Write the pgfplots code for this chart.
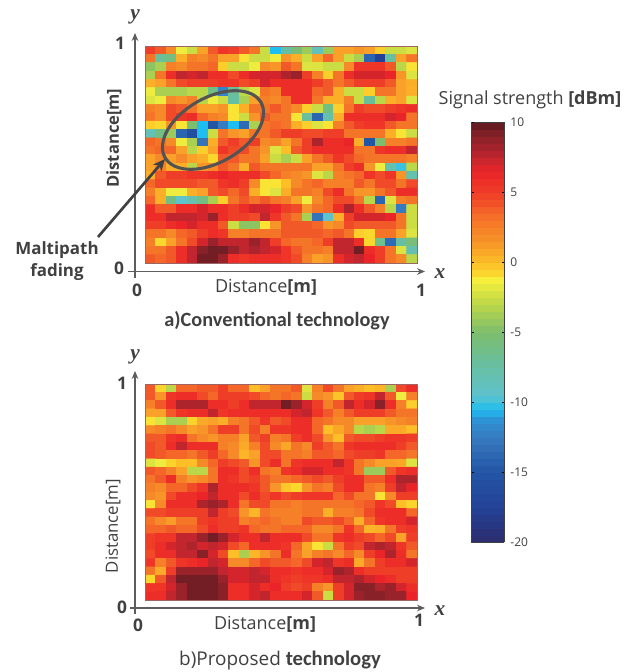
\documentclass[border=0pt]{standalone}
\usepackage{fontspec}
\usepackage{pgfplots}
\usepackage{pgfplotstable}
\pgfplotsset{compat=1.18}
\usetikzlibrary{arrows.meta}
\setmainfont{Open Sans}
\newfontfamily\calfont{Carlito}
\newfontfamily\serfont{Liberation Serif}
\definecolor{ink}{RGB}{64,64,64}
\pgfplotstableread[row sep=crcr]{
z\\
5\\4\\2\\-1.5\\-2.5\\1\\4\\5.5\\5\\4\\3\\-2.5\\-10.5\\-7.5\\-5.5\\-4\\-8.5\\-4\\1\\1\\1.5\\1\\-0.5\\-2.5\\-2.5\\-2\\
3\\-7\\-6\\0.5\\2.5\\2\\3\\1\\1\\-1\\-2.5\\-2.5\\-1.5\\1.5\\0.5\\-2.5\\1\\3.5\\1\\-2.5\\-3.5\\-14\\-17.5\\-7.5\\1\\3\\
-4.5\\-3.5\\2.5\\2\\3\\3\\3.5\\-0.5\\-2.5\\-2.5\\-1.5\\2\\1.5\\4\\3\\-2\\-2\\-2.5\\-2.5\\2\\5.5\\5.5\\5.5\\4\\-3\\-1\\
-3.5\\3\\6\\7.5\\7\\7.5\\6\\6\\4.5\\6\\7\\7\\7\\8\\8.5\\5\\2.5\\-0.5\\3\\6\\7\\7\\7\\6.5\\1.5\\-2\\
0.5\\1\\3\\4.5\\5\\5\\5\\5.5\\5.5\\4.5\\5\\7\\6\\6\\6\\6\\5\\4\\3\\4\\5\\5\\5\\4\\1\\0.5\\
-1.5\\-3.5\\-3.5\\-3.5\\-3\\-3\\-6\\-12\\-7\\-3\\-2\\3\\2.5\\6\\6\\6\\3.5\\4\\0.5\\-2.5\\-2.5\\-0.5\\3\\3\\1\\0.5\\
-2\\-1.5\\2\\1.5\\2.5\\-3\\-1.5\\-2.5\\-7.5\\-3.5\\1\\2.5\\2\\3\\6\\6\\3\\0.5\\0.5\\2.5\\-2.5\\-7\\-3\\0.5\\1\\-2\\
2.5\\2\\4.5\\4\\3\\1\\1\\1.5\\-1\\0.5\\3\\3\\4\\3\\2\\-0.5\\-2.5\\-6\\-0.5\\3\\5\\4.5\\4.5\\5\\5.5\\6\\
3\\2\\4.5\\5.5\\6\\3.5\\2.5\\2\\-1\\-2.5\\1.5\\4\\3\\3\\-1\\-7\\-14\\-8\\0.5\\6\\6\\6\\6\\7\\6.5\\3\\
-0.5\\-0.8\\1.5\\-1\\-5\\-10.5\\-15\\-12.5\\-10.5\\-13.5\\-3.5\\3\\3.5\\3\\0.5\\-0.5\\-2\\-1\\2.5\\4\\5\\5.5\\5.5\\4\\3\\3\\
-8.5\\-6\\-4\\-14\\-16\\-10.5\\-2.5\\3\\1.5\\1\\3\\3\\4\\5\\5\\4.5\\4.5\\5\\5\\3\\3\\3\\3\\0.5\\-1\\-2.5\\
3.5\\3\\2\\-1.5\\-3.5\\-13\\0.5\\4\\5\\4\\5\\2\\2.5\\1\\3\\5\\8\\6\\6\\6.5\\0.5\\-15\\-5\\2.5\\2.5\\3\\
3\\3.5\\3.5\\1\\-3\\-0.5\\1\\5.5\\4.5\\4.5\\3\\1.5\\-2\\0\\4\\5\\6\\6\\6\\6\\3\\3\\5.5\\6\\6\\7.5\\
1\\2\\1\\2\\1\\0.5\\-0.8\\4\\4\\3\\3\\1\\-2.5\\-3.5\\-2.5\\1\\3\\4\\5.5\\4.5\\3.5\\3\\3\\3\\3\\2.5\\
1\\2.5\\0.5\\0.5\\-3\\1.5\\2\\4\\3\\0.5\\4\\3\\3\\3\\3\\3\\1\\1\\3\\5\\6\\1.5\\-1.5\\-8\\-10\\-3\\
0.5\\4\\5\\5\\5.5\\5.5\\6\\6.5\\6\\6\\6\\4.5\\3.5\\2.5\\2\\1.5\\-2\\-3\\2.5\\3\\3.5\\5.5\\4.5\\5.5\\1.5\\-8\\
3.5\\4.5\\4.5\\4.5\\4.5\\4\\4\\5.5\\6\\5\\2\\-1\\-1\\0\\2\\3\\3.5\\2.5\\2.5\\2.5\\4\\3\\4.5\\4.5\\3\\4.5\\
2.5\\0.5\\-1.5\\-1.5\\0.5\\1\\4\\4.5\\3.5\\4.5\\0.5\\-1\\-2\\0.5\\3\\3\\2.5\\4.5\\6\\3\\1.5\\1.5\\3\\4\\6\\6\\
3.5\\0.5\\-6\\-9.5\\-8\\-6\\-3.5\\-0.5\\3\\4\\3\\4\\3\\2.5\\1\\-1.5\\2\\3.5\\4.5\\4.5\\3\\-3\\-14\\-2\\2.5\\3\\
6\\4\\4\\6\\6\\7\\6\\6\\5\\6\\7\\7\\6.5\\5\\4.5\\1.5\\3\\3.5\\6\\8\\6\\4\\2.5\\-3\\-12.5\\-2.5\\
6\\6\\7.5\\7.5\\7.5\\7\\8.5\\6\\5\\5\\4.5\\7.5\\5.5\\4\\3\\-3.5\\-13\\-9.5\\0.5\\5\\7\\7\\7\\6.5\\3\\-2.5\\
5\\5\\6\\6.5\\7\\6\\6\\4\\-2.5\\-4.5\\-4.5\\-1\\1.5\\4\\4\\4\\3.5\\1.5\\2\\4.5\\4\\4\\4\\4\\3\\-2.5\\
3\\3\\2\\3.5\\4\\5\\6\\5.5\\2.5\\2.5\\3\\3\\3\\4\\4\\4\\4\\3.5\\4\\3\\-0.5\\-0.8\\3\\3\\1\\-2\\
2.5\\-0.8\\1\\3\\4.5\\7\\8.5\\7.5\\7.5\\7.5\\8.5\\7.5\\5\\3.5\\3\\3\\3.5\\5\\7.5\\7.5\\6\\-0.8\\-6.5\\-13.5\\-7.5\\-5.5\\
3\\3\\4\\6\\7.5\\9\\9.5\\9.5\\8.5\\7.5\\8\\7.5\\7\\5.5\\4\\3\\3\\2.5\\7.5\\7.5\\9.5\\6\\5\\3\\-2\\-8\\
4\\3.5\\4\\6\\7.5\\9.5\\9.5\\8.5\\6\\5.5\\6\\6\\6\\5.5\\4.5\\2.5\\1\\1.5\\6\\7\\7.5\\6.5\\5\\3\\2\\-3\\
}\tabA
\pgfplotstableread[row sep=crcr]{
z\\
4\\-0.7\\-3\\3.5\\3.5\\4\\4\\5\\3.5\\3.5\\0\\1\\3\\3\\4\\-2\\2.5\\4.5\\3\\1\\0.5\\0\\0.3\\-3.5\\4.5\\6\\
4\\1.5\\5.5\\6\\6\\4.5\\3.5\\5\\5\\5\\4.5\\3.5\\3\\3.5\\3\\-2.5\\2\\1.5\\-0.2\\4\\5\\5.5\\7.5\\4\\-1.5\\2.5\\
2.5\\4\\6\\8\\8\\8\\6\\6\\5\\6\\7.5\\7.5\\7.5\\9.5\\8.5\\7\\5\\2.5\\4\\7.5\\6\\7\\9\\6\\2.5\\-0.5\\
1\\1\\4\\5.5\\6\\6\\7.5\\5.5\\6\\6\\6\\6\\6\\6\\7\\7.5\\5.5\\4\\2.5\\4\\5\\5\\5\\4\\3\\3\\
-1\\-2\\-3.5\\-3.5\\-0.7\\0.7\\1\\0.5\\2.5\\3\\4\\5.5\\4\\4.5\\6\\6\\3.5\\3\\2\\2\\1\\1\\1\\1.5\\2\\2.5\\
2\\2.5\\3\\2\\1\\1.5\\3\\5\\5\\3\\4.5\\2.5\\5.5\\5.5\\6\\6\\3.5\\0\\0.8\\2\\-3\\-3.5\\-3\\0.7\\0.7\\0\\
4\\4\\5.5\\6\\3\\2\\1.5\\2.5\\2.5\\1\\4\\5\\2.5\\3\\5\\6\\4.5\\1.5\\0\\4\\4.5\\4.5\\5\\5.5\\5.5\\5\\
4.5\\4\\6\\7.5\\6\\6\\6\\2.5\\2\\0.7\\2.5\\4.5\\2\\0.8\\3\\2\\5\\4\\3\\5.5\\6\\6\\6\\6\\5\\4\\
4.5\\4\\3.5\\3.5\\3\\4\\5\\3.5\\2\\0.3\\1\\4.5\\4.5\\3\\3\\2.5\\4\\4\\3.5\\4.5\\5\\5\\5.5\\3.5\\3.5\\3\\
-2\\-1.5\\-0.7\\0\\0\\2\\3.5\\5\\4.5\\4\\1.5\\4.5\\6\\3\\5.5\\6\\6\\6\\7.5\\5.5\\3\\2\\1\\1\\0.8\\-2\\
4\\3.5\\2.5\\1\\-3\\-3\\3\\6\\6\\4.5\\6\\3\\2.5\\5.5\\6\\7\\7\\6\\6\\5.5\\3\\-4\\-4\\4\\5.5\\6\\
3\\4\\6\\2.5\\1.5\\2\\3\\6\\5.5\\4.5\\5\\4\\3\\3\\3.5\\4\\4.5\\4\\5\\6\\6\\4\\4\\6\\8\\8\\
2.5\\2\\3.5\\3.5\\4.5\\5.5\\8\\6\\6\\6\\5.5\\4\\1.5\\-0.3\\-0.8\\1.5\\3\\2.5\\4.5\\6\\6\\3\\2.5\\5\\7.5\\6.5\\
2\\1.5\\4.5\\6\\6\\6.5\\7.5\\6\\6\\4.5\\6\\4.5\\5.5\\4.5\\5\\5.5\\5.5\\5.5\\3.5\\4.5\\3\\3\\-1\\2\\5\\5\\
-1\\2\\6\\6\\6\\8\\8.5\\8\\6\\3\\4.5\\4.5\\3\\3\\2.5\\3\\3\\3\\3\\3\\3.5\\4\\5.5\\4.5\\0\\-0.7\\
4.5\\4.5\\5\\5\\5\\5\\7.5\\5\\4.5\\1.5\\0.3\\3\\2.5\\2.5\\2.5\\3\\3\\0.5\\2.5\\2.5\\3\\4.5\\6\\6\\6\\3.5\\
3\\2\\1.2\\3\\3\\5\\5.5\\5\\5\\2.5\\3\\3.5\\3\\2.5\\2.5\\4.5\\4\\4\\4.5\\3.5\\0.5\\3.5\\5.5\\6\\6\\7\\
3.5\\3.5\\4\\3.5\\3.5\\4.5\\6\\5\\5\\5.5\\3.5\\3\\3\\3.5\\3.5\\3.5\\2\\2\\3\\5.5\\3.5\\0.3\\0.5\\3\\5\\5.5\\
5\\5.5\\5.5\\7.5\\7.5\\8.5\\9.5\\8.5\\7\\6\\6\\7.5\\6\\6\\6\\4.5\\3\\3\\5.5\\6\\5\\4.5\\3.5\\4.5\\1\\5\\
5\\6\\7\\7.5\\8\\7\\7.5\\7\\4.5\\3.5\\6\\6\\6\\5.5\\3.5\\0.8\\-1\\-2.5\\3\\5\\4.5\\7.5\\8\\7.5\\5.5\\4\\
4.5\\6\\6\\7.5\\7.5\\9\\7\\4.5\\0\\-3.5\\0.3\\1.5\\3\\6\\3\\1\\2.5\\3\\2\\3.5\\2\\5\\6.5\\8\\6\\3\\
5.5\\2.5\\4\\5.5\\6\\6.5\\7.5\\7\\2\\2\\3.5\\4.5\\4\\4\\3.5\\4.5\\7\\7.5\\5.5\\6\\0.7\\3\\5\\6\\6\\7\\
3\\0.7\\5\\8.5\\8.5\\8.5\\8.5\\7.5\\7\\7\\7.5\\7\\6\\6\\5.5\\6\\6\\7\\8.5\\8\\6\\5\\5\\5\\5\\5\\
-0.8\\4\\7.5\\9.5\\9.5\\9.5\\9.5\\8.5\\7\\7\\7.5\\7.5\\6\\5.5\\5\\5.5\\5.5\\6\\7.5\\7.5\\8\\7\\6.5\\6\\5\\5\\
5.5\\5.5\\7\\8.5\\9.5\\9.5\\9.5\\9\\6\\6\\7\\6\\6.5\\5\\4.5\\5\\2.5\\1.5\\5\\7\\9\\9\\8\\8.5\\7\\6\\
6\\6\\7.5\\8.5\\9.5\\9.5\\9.5\\9\\6\\6\\7\\7.5\\6\\6\\6\\7\\4\\-2.5\\5\\7\\8.5\\9\\9\\8.5\\8.5\\6.5\\
}\tabB
\pgfplotsset{
  colormap={sig}{
    rgb255(0mm)=(45,45,110)
    rgb255(24mm)=(35,65,150)
    rgb255(50mm)=(35,85,165)
    rgb255(74mm)=(55,120,190)
    rgb255(89mm)=(45,150,215)
    rgb255(95mm)=(30,190,240)
    rgb255(105mm)=(95,195,205)
    rgb255(129mm)=(105,190,155)
    rgb255(150mm)=(125,190,110)
    rgb255(171mm)=(190,215,70)
    rgb255(188mm)=(248,240,60)
    rgb255(192mm)=(250,215,45)
    rgb255(200mm)=(253,190,40)
    rgb255(212mm)=(248,155,40)
    rgb255(231mm)=(245,115,40)
    rgb255(248mm)=(240,65,40)
    rgb255(265mm)=(234,36,40)
    rgb255(272mm)=(205,38,45)
    rgb255(282mm)=(165,35,45)
    rgb255(293mm)=(125,32,38)
    rgb255(300mm)=(90,25,30)
  },
  heat/.style={
    scale only axis, width=204pt, height=#1,
    xmin=-0.5, xmax=25.5, ymin=-0.5, ymax=25.5, y dir=reverse,
    ticks=none, axis line style={draw=black!65!red!60!white, line width=0.5pt},
    point meta min=-20, point meta max=10,
    axis on top,
  },
}
\begin{document}
\begin{tikzpicture}
\useasboundingbox (0,0) rectangle (472.5pt,-504pt);
\begin{axis}[heat=162.75pt, at={(108.75pt,-197.25pt)}, anchor=south west,
  colorbar sampled,
  colorbar style={
    samples=61,
    at={(parent axis.south west)}, anchor=north west,
    xshift=236.25pt, yshift=105.75pt,
    scale only axis,
    width=24.75pt, height=315pt,
    ytick={-20,-15,-10,-5,0,5,10},
    yticklabels={-20,-15,-10,-5,0,5,10},
    ticklabel pos=right,
    yticklabel style={font=\fontsize{9}{9}\selectfont, text=ink, xshift=1pt},
    ytick style={draw=black, line width=0.6pt},
    tick pos=both, tick align=inside, major tick length=2pt,
    axis line style={draw=ink, line width=0.6pt},
  }]
\addplot[matrix plot*, mesh/cols=26, point meta=explicit, shader=flat corner]
  table[x index=0, y index=0, x expr={mod(\coordindex,26)}, y expr={floor((\coordindex+0.5)/26)}, meta=z] {\tabA};
\end{axis}
\begin{axis}[heat=162pt, at={(108.75pt,-450pt)}, anchor=south west]
\addplot[matrix plot*, mesh/cols=26, point meta=explicit, shader=flat corner]
  table[x index=0, y index=0, x expr={mod(\coordindex,26)}, y expr={floor((\coordindex+0.5)/26)}, meta=z] {\tabB};
\end{axis}
\draw[ink!90, line width=2.3pt, shift={(159.75pt,-97.5pt)}, rotate=30] (0,0) ellipse [x radius=41.5pt, y radius=24.2pt];
\begin{scope}[x=0.75pt,y=-0.75pt,text=ink]
  % axis arrows
  \draw[ink!85, line width=0.8pt, -{Stealth[length=6pt,width=5pt]}] (135,278) -- (135,33);
  \draw[ink!85, line width=0.8pt, -{Stealth[length=6pt,width=5pt]}] (128,271.5) -- (425,271.5);
  \draw[ink!85, line width=0.8pt, -{Stealth[length=6pt,width=5pt]}] (135,614) -- (135,371);
  \draw[ink!85, line width=0.8pt, -{Stealth[length=6pt,width=5pt]}] (130,608) -- (425,608);
  \draw[ink, line width=2pt, -{Stealth[length=9pt,width=8pt]}] (98,237) -- (165,159);
  % chart a text
  \node at (135,17) {\serfont\bfseries\itshape\fontsize{16}{16}\selectfont y};
  \node at (440,274) {\serfont\bfseries\itshape\fontsize{16}{16}\selectfont x};
  \node at (120,43) {\bfseries\fontsize{13}{13}\selectfont 1};
  \node at (119,268) {\bfseries\fontsize{13}{13}\selectfont 0};
  \node at (137,290) {\bfseries\fontsize{13}{13}\selectfont 0};
  \node at (421,290) {\bfseries\fontsize{13}{13}\selectfont 1};
  \node at (266,287) {\fontsize{13.5}{14}\selectfont Distance{\bfseries[m]}};
  \node[rotate=90] at (114,138) {\bfseries\fontsize{12.4}{13}\selectfont Distance[m]};
  \node[align=center, font=\bfseries\fontsize{12.7}{16.5}\selectfont] at (57,261) {Maltipath\\fading};
  \node at (277,321) {\calfont\bfseries\fontsize{15.2}{15.2}\selectfont a)Conventional technology};
  % chart b text
  \node at (135,357) {\serfont\bfseries\itshape\fontsize{16}{16}\selectfont y};
  \node at (440,611) {\serfont\bfseries\itshape\fontsize{16}{16}\selectfont x};
  \node at (122,383) {\bfseries\fontsize{13}{13}\selectfont 1};
  \node at (122,607) {\bfseries\fontsize{13}{13}\selectfont 0};
  \node at (138,625) {\bfseries\fontsize{13}{13}\selectfont 0};
  \node at (419,620) {\bfseries\fontsize{13}{13}\selectfont 1};
  \node at (265,624) {\fontsize{13.5}{14}\selectfont Distance{\bfseries[m]}};
  \node[rotate=90] at (113,526) {\fontsize{12.6}{13}\selectfont Distance[m]};
  \node at (280,661) {\fontsize{14.2}{14}\selectfont b)Proposed {\bfseries\calfont\fontsize{15.5}{15}\selectfont technology}};
  % colour bar title
  \node at (530,100) {\fontsize{13.5}{14}\selectfont Signal strength {\bfseries[dBm]}};
\end{scope}
\end{tikzpicture}
\end{document}
